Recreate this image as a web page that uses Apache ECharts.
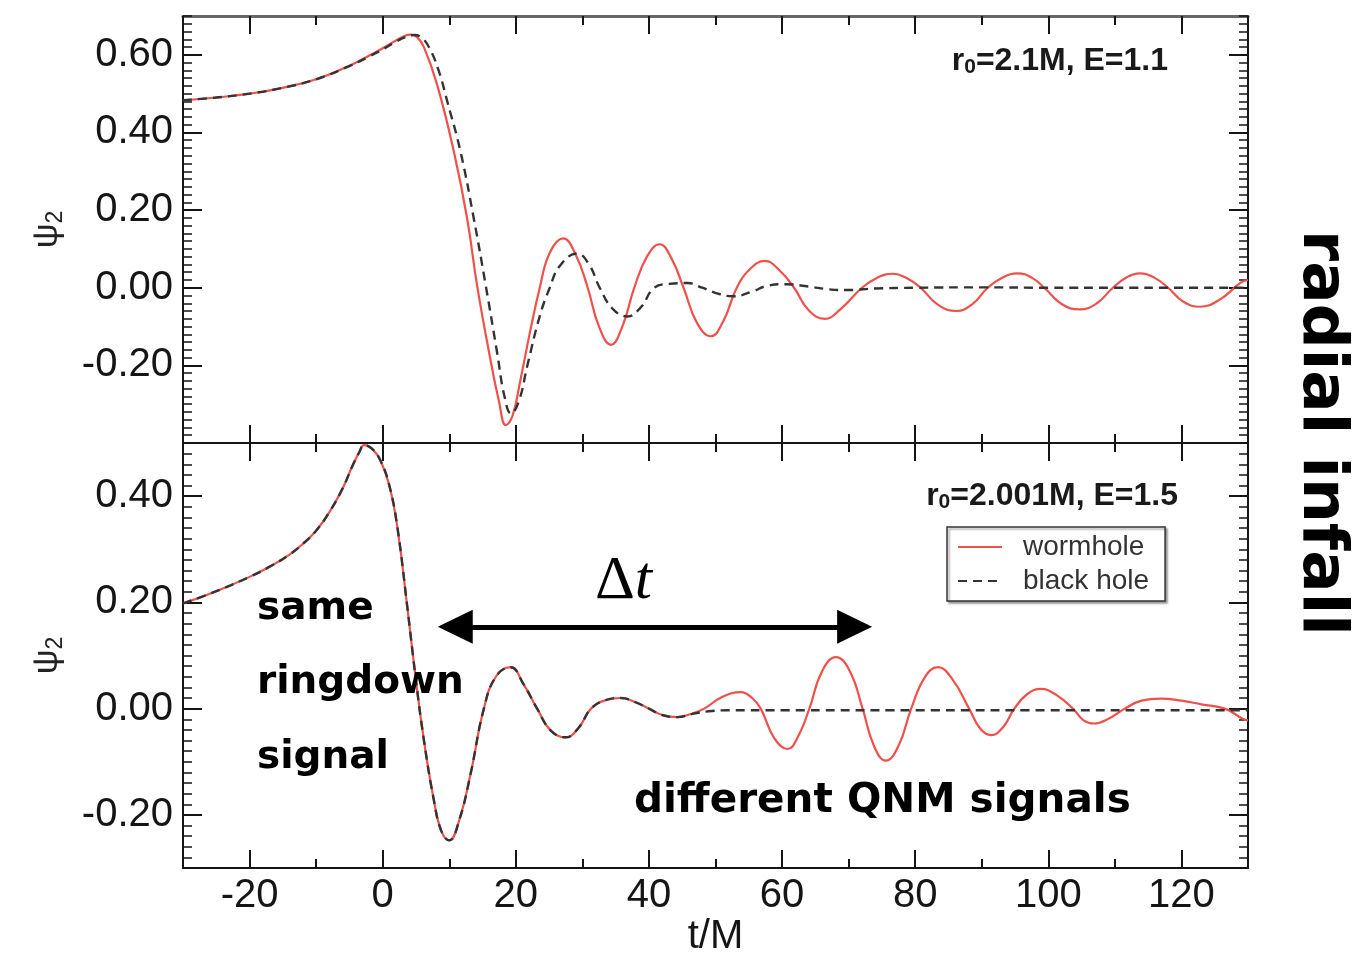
<!DOCTYPE html>
<html>
<head>
<meta charset="utf-8">
<script src="https://cdn.jsdelivr.net/npm/echarts@6/dist/echarts.min.js"></script>
<style>
  html, body { margin: 0; padding: 0; background: #fff; }
  #chart { width: 1359px; height: 953px; }
</style>
</head>
<body>
<div id="chart"></div>
<script>
// tick positions
const xMajorTicks = [-20, 0, 20, 40, 60, 80, 100, 120];
const topYTicks = [-0.2, 0, 0.2, 0.4, 0.6];
const bottomYTicks = [-0.2, 0, 0.2, 0.4];

// upper panel: r0=2.1M, E=1.1  ([t/M, psi2])
const topWormhole = [
  [-30, 0.483], [-25, 0.49], [-20, 0.50], [-15, 0.515], [-10, 0.537], [-5, 0.572], [-2, 0.598],
  [0, 0.617], [2, 0.637], [3.2, 0.648], [4.2, 0.652], [5.2, 0.645], [6.2, 0.62], [8.2, 0.522],
  [10.7, 0.35], [12.7, 0.177], [14.2, 0.004], [16, -0.168], [17.5, -0.295], [18.5, -0.354],
  [19.5, -0.33], [20.6, -0.246], [22.1, -0.117], [23.6, 0.0], [25.1, 0.09], [27.1, 0.127],
  [29, 0.085], [30.8, 0.0], [32.5, -0.1], [34.3, -0.147], [36, -0.1], [37.8, 0.0], [39.7, 0.08],
  [41.6, 0.112], [43.4, 0.075], [45.2, 0.0], [47.2, -0.09], [49.3, -0.125], [51.2, -0.085],
  [53.2, 0.0], [55.3, 0.05], [57.4, 0.069], [59.6, 0.045], [61.8, 0.0], [64, -0.058], [66.4, -0.08],
  [68.8, -0.055], [72, 0.0], [74.3, 0.026], [76.6, 0.036], [78.7, 0.025], [80.8, 0.0], [83.5, -0.045],
  [86.2, -0.06], [88.6, -0.042], [90.9, 0.0], [93.2, 0.027], [95.4, 0.037], [97.5, 0.026], [99.4, 0.0],
  [102, -0.042], [104.7, -0.056], [107.3, -0.04], [109.7, 0.0], [111.8, 0.027], [113.7, 0.037],
  [115.9, 0.026], [118, 0.0], [120.3, -0.036], [122.8, -0.049], [125.8, -0.03], [128.9, 0.013],
  [130, 0.02]
];
const topBlackHole = [
  [-30, 0.483], [-25, 0.49], [-20, 0.50], [-15, 0.515], [-10, 0.537], [-5, 0.571], [-2, 0.596],
  [0, 0.614], [2, 0.634], [3.5, 0.646], [4.7, 0.651], [5.8, 0.645], [7, 0.618], [8.4, 0.56],
  [9.7, 0.48], [11.7, 0.35], [13.7, 0.177], [15.5, 0.004], [17.2, -0.168], [18.3, -0.28],
  [19.3, -0.324], [20.5, -0.29], [21.7, -0.203], [23.6, -0.073], [25.1, 0.0], [26.6, 0.056],
  [29.2, 0.088], [31, 0.06], [32.6, 0.0], [34.6, -0.055], [36.8, -0.074], [38.8, -0.05], [40.8, 0.0],
  [43, 0.01], [45.8, 0.012], [48, 0.0], [50.5, -0.016], [52.7, -0.022], [55.5, -0.01], [57.8, 0.005],
  [60.5, 0.009], [64, 0.003], [67, -0.004], [69.8, -0.006], [74, -0.002], [80, 0.0], [90, 0.001],
  [100, 0.0], [110, 0.0], [120, 0.0], [130, 0.0]
];

// lower panel: r0=2.001M, E=1.5 -- both signals agree up to t ~ 45
const bottomCommon = [
  [-30, 0.198], [-25, 0.221], [-20, 0.248], [-17, 0.267], [-14, 0.29], [-12, 0.31], [-10, 0.335],
  [-8, 0.37], [-6, 0.415], [-4.5, 0.458], [-3.5, 0.483], [-2.8, 0.496], [-1.5, 0.488], [-0.3, 0.466],
  [1, 0.42], [2.2, 0.342], [3.7, 0.191], [5, 0.053], [6.2, -0.06], [7.7, -0.173], [8.8, -0.23],
  [10, -0.248], [11.5, -0.21], [13.2, -0.123], [15.2, 0.0], [17, 0.06], [19.2, 0.078], [21.2, 0.045],
  [23.2, 0.0], [25.3, -0.042], [27.5, -0.054], [29.5, -0.035], [31.3, 0.0], [33.5, 0.016],
  [35.8, 0.02], [38, 0.012], [40, 0.0], [42, -0.012], [44.3, -0.016]
];
const bottomWormholeTail = [
  [46.3, -0.01], [48.3, 0.0], [51, 0.022], [53.8, 0.031], [55.5, 0.02], [56.8, 0.0], [58.8, -0.055],
  [60.8, -0.076], [62.5, -0.05], [64.1, 0.0], [66, 0.07], [68.1, 0.097], [70.2, 0.07], [72.1, 0.0],
  [73.8, -0.07], [75.6, -0.098], [77.5, -0.07], [79.4, 0.0], [81.4, 0.058], [83.4, 0.078],
  [85.6, 0.055], [88.1, 0.0], [89.8, -0.038], [91.4, -0.05], [93.2, -0.035], [94.9, 0.0],
  [96.9, 0.028], [98.9, 0.037], [101.3, 0.025], [103.7, 0.0], [105.3, -0.022], [106.9, -0.028],
  [109.2, -0.018], [111.5, 0.0], [114, 0.015], [116.9, 0.019], [120, 0.015], [123, 0.008],
  [126.5, 0.0], [129.2, -0.019], [130, -0.022]
];
const bottomBlackHoleTail = [
  [46.5, -0.01], [49, -0.005], [52, -0.003], [60, -0.003], [80, -0.003], [100, -0.003],
  [120, -0.003], [130, -0.003]
];

// delta t arrow ends (t/M, psi2)
const arrowFrom = [10.9, 0.154];
const arrowTo = [70.9, 0.154];

const RED = '#f0504a';
const DARK = '#333333';
const INK = '#151515';
const labelFont = 'Liberation Sans';
const handFont = 'DejaVu Sans';

function xAxesFor(grid, withLabels, topColor) {
  const base = { type: 'value', gridIndex: grid, min: -30, max: 130, splitLine: { show: false } };
  const lineW = { color: INK, width: 2 };
  return [
    Object.assign({}, base, {
      position: 'bottom', interval: 10,
      axisLine: { show: true, onZero: false, lineStyle: lineW },
      axisTick: { show: true, inside: true, length: 9, lineStyle: lineW },
      axisLabel: { show: false }
    }),
    Object.assign({}, base, {
      position: 'bottom',
      axisLine: { show: false, onZero: false },
      axisTick: { show: true, inside: true, length: 18, customValues: xMajorTicks, lineStyle: lineW },
      axisLabel: withLabels ? {
        show: true, customValues: xMajorTicks, margin: 8,
        fontSize: 40, fontFamily: labelFont, color: INK
      } : { show: false },
      name: withLabels ? 't/M' : '',
      nameLocation: 'middle', nameGap: 46,
      nameTextStyle: { fontSize: 40, fontFamily: labelFont, color: INK }
    }),
    Object.assign({}, base, {
      position: 'top', interval: 10,
      axisLine: { show: true, onZero: false, lineStyle: { color: topColor, width: topColor === INK ? 2 : 3 } },
      axisTick: { show: true, inside: true, length: 9, lineStyle: lineW },
      axisLabel: { show: false }
    }),
    Object.assign({}, base, {
      position: 'top',
      axisLine: { show: false, onZero: false },
      axisTick: { show: true, inside: true, length: 18, customValues: xMajorTicks, lineStyle: lineW },
      axisLabel: { show: false }
    })
  ];
}

function yAxesFor(grid, min, max, majors) {
  const base = { type: 'value', gridIndex: grid, min: min, max: max, splitLine: { show: false } };
  const lineW = { color: INK, width: 2 };
  const out = [];
  ['left', 'right'].forEach(side => {
    out.push(Object.assign({}, base, {
      position: side, interval: 0.02,
      axisLine: { show: true, onZero: false, lineStyle: lineW },
      axisTick: { show: true, inside: true, length: 9, lineStyle: { color: INK, width: 1.5 } },
      axisLabel: { show: false }
    }));
    out.push(Object.assign({}, base, {
      position: side,
      axisLine: { show: false, onZero: false },
      axisTick: { show: true, inside: true, length: 19, customValues: majors, lineStyle: lineW },
      axisLabel: side === 'left' ? {
        show: true, customValues: majors, margin: 10,
        fontSize: 40, fontFamily: labelFont, color: INK,
        formatter: v => v.toFixed(2)
      } : { show: false },
      name: side === 'left' ? '{p|ψ}{s|2}' : '',
      nameLocation: 'middle', nameGap: 116, nameRotate: 90,
      nameTextStyle: {
        color: '#222',
        rich: {
          p: { fontSize: 35, fontFamily: labelFont, color: '#222', lineHeight: 40 },
          s: { fontSize: 23, fontFamily: labelFont, color: '#222', lineHeight: 20, verticalAlign: 'bottom' }
        }
      }
    }));
  });
  return out;
}

const xAxis = xAxesFor(0, false, '#666').concat(xAxesFor(1, true, INK));
const yAxis = yAxesFor(0, -0.4, 0.7, topYTicks).concat(yAxesFor(1, -0.3, 0.5, bottomYTicks));

function lineSeries(name, data, xi, yi, dashed) {
  return {
    name: name, type: 'line', data: data,
    xAxisIndex: xi, yAxisIndex: yi,
    symbol: 'none', smooth: 0.45, clip: true,
    lineStyle: dashed
      ? { color: DARK, width: 2.4, type: [9, 6] }
      : { color: RED, width: 2.2 },
    itemStyle: { color: dashed ? DARK : RED },
    z: dashed ? 3 : 2
  };
}

const bottomWorm = lineSeries('wormhole', bottomCommon.concat(bottomWormholeTail), 5, 5, false);
bottomWorm.markLine = {
  silent: true, animation: false,
  symbol: ['triangle', 'triangle'], symbolSize: [34, 35],
  label: { show: false },
  lineStyle: { color: '#000', width: 5, type: 'solid' },
  emphasis: { disabled: true },
  data: [[{ coord: arrowFrom }, { coord: arrowTo }]]
};

const series = [
  lineSeries('wormhole', topWormhole, 1, 1, false),
  lineSeries('black hole', topBlackHole, 1, 1, true),
  bottomWorm,
  lineSeries('black hole', bottomCommon.concat(bottomBlackHoleTail), 5, 5, true)
];

const richParam = size => ({
  a: { fontSize: size, fontWeight: 'bold', fontFamily: labelFont, fill: '#1a1a1a', lineHeight: 34 },
  b: { fontSize: Math.round(size * 0.66), fontWeight: 'bold', fontFamily: labelFont, fill: '#1a1a1a', lineHeight: 4, verticalAlign: 'bottom' }
});

const graphic = [
  { type: 'text', x: 1168, y: 61, z: 10,
    style: { text: '{a|r}{b|0}{a|=2.1M, E=1.1}', align: 'right', verticalAlign: 'middle', rich: richParam(32) } },
  { type: 'text', x: 1178, y: 496, z: 10,
    style: { text: '{a|r}{b|0}{a|=2.001M, E=1.5}', align: 'right', verticalAlign: 'middle', rich: richParam(32) } },
  { type: 'text', x: 257, y: 609, z: 10,
    style: { text: 'same', font: 'bold 39px "' + handFont + '"', fill: '#000', verticalAlign: 'middle' } },
  { type: 'text', x: 257, y: 683, z: 10,
    style: { text: 'ringdown', font: 'bold 39px "' + handFont + '"', fill: '#000', verticalAlign: 'middle' } },
  { type: 'text', x: 257, y: 758, z: 10,
    style: { text: 'signal', font: 'bold 39px "' + handFont + '"', fill: '#000', verticalAlign: 'middle' } },
  { type: 'text', x: 634, y: 801, z: 10,
    style: { text: 'different QNM signals', font: 'bold 40.5px "' + handFont + '"', fill: '#000', verticalAlign: 'middle' } },
  { type: 'text', x: 595, y: 582, z: 10,
    style: {
      text: '{d|Δ}{t|t}', verticalAlign: 'middle',
      rich: {
        d: { fontSize: 62, fontFamily: 'Liberation Serif', fill: '#000' },
        t: { fontSize: 62, fontFamily: 'Liberation Serif', fontStyle: 'italic', fill: '#000' }
      }
    } },
  { type: 'text', x: 1320, y: 433, z: 10, rotation: -Math.PI / 2,
    style: { text: 'radial infall', font: 'bold 63px "' + handFont + '"', fill: '#000', align: 'center', verticalAlign: 'middle' } }
];

const chart = echarts.init(document.getElementById('chart'), null, { renderer: 'canvas' });
chart.setOption({
  animation: false,
  backgroundColor: '#ffffff',
  grid: [
    { left: 183, top: 16, width: 1065, height: 427, outerBoundsMode: 'none' },
    { left: 183, top: 443, width: 1065, height: 425, outerBoundsMode: 'none' }
  ],
  legend: {
    data: ['wormhole', 'black hole'],
    orient: 'vertical', left: 947, top: 527,
    itemWidth: 44, itemHeight: 20, itemGap: 6,
    padding: [6, 16, 6, 10],
    borderColor: '#333', borderWidth: 1.5, backgroundColor: '#fff',
    shadowColor: 'rgba(0,0,0,0.35)', shadowBlur: 2, shadowOffsetX: 2, shadowOffsetY: 2,
    selectedMode: false,
    itemStyle: { opacity: 0 },
    textStyle: { fontSize: 28, fontFamily: labelFont, color: '#333', padding: [0, 0, 0, 16] }
  },
  xAxis: xAxis,
  yAxis: yAxis,
  series: series,
  graphic: graphic
});
window.addEventListener('resize', () => chart.resize());
</script>
</body>
</html>
